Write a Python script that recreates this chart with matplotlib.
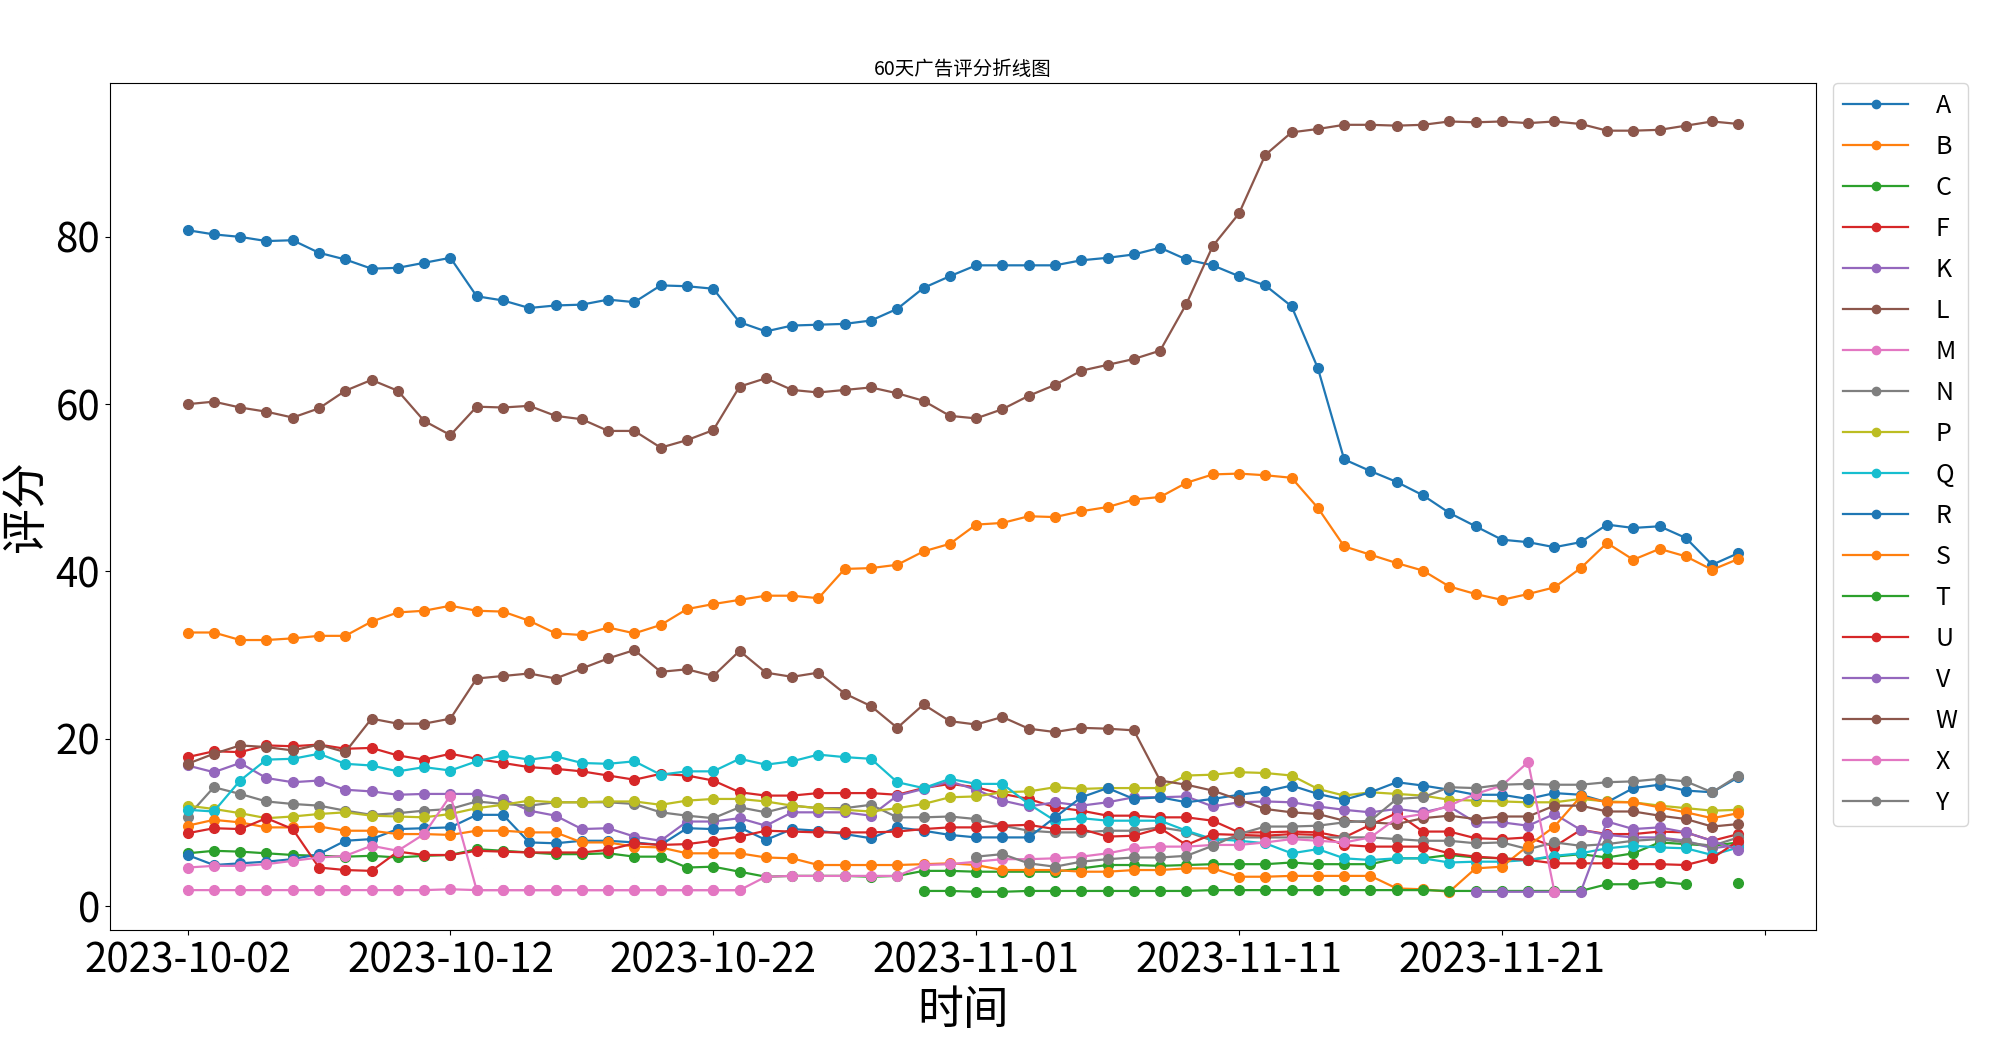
import matplotlib
matplotlib.use('Agg')
import matplotlib.pyplot as plt
import numpy as np
import pandas as pd

plt.rcParams['font.family'] = ['Noto Sans CJK SC', 'DejaVu Sans']
plt.rcParams['axes.unicode_minus'] = False

# 60 days of data
dates = pd.date_range('2023-10-02', periods=60).strftime('%Y-%m-%d').tolist()
nan = None

A = [80.8, 80.3, 80.0, 79.5, 79.6, 78.1, 77.3, 76.2, 76.3, 76.9,
     77.5, 72.9, 72.4, 71.5, 71.8, 71.9, 72.5, 72.2, 74.2, 74.1,
     73.8, 69.8, 68.7, 69.4, 69.5, 69.6, 70.0, 71.4, 73.9, 75.3,
     76.6, 76.6, 76.6, 76.6, 77.2, 77.5, 77.9, 78.7, 77.3, 76.6,
     75.3, 74.2, 71.7, 64.3, 53.4, 52.0, 50.7, 49.1, 47.0, 45.4,
     43.8, 43.5, 42.9, 43.5, 45.6, 45.2, 45.4, 44.0, 40.8, 42.2]
B = [32.7, 32.7, 31.8, 31.8, 32.0, 32.3, 32.3, 34.0, 35.1, 35.3,
     35.9, 35.3, 35.2, 34.1, 32.6, 32.4, 33.3, 32.6, 33.6, 35.5,
     36.1, 36.6, 37.1, 37.1, 36.8, 40.3, 40.4, 40.8, 42.4, 43.3,
     45.6, 45.8, 46.6, 46.5, 47.2, 47.7, 48.6, 48.9, 50.6, 51.6,
     51.7, 51.5, 51.2, 47.6, 43.0, 42.0, 41.0, 40.1, 38.2, 37.3,
     36.6, 37.3, 38.1, 40.4, 43.4, 41.4, 42.7, 41.8, 40.2, 41.5]
C = [6.3, 6.6, 6.5, 6.3, 6.1, 6.0, 5.9, 6.0, 5.8, 6.0,
     6.1, 6.8, 6.6, 6.4, 6.2, 6.2, 6.3, 5.9, 5.9, 4.6,
     4.7, 4.1, 3.5, 3.6, 3.6, 3.6, 3.5, 3.6, 4.2, 4.2,
     4.1, 4.1, 4.1, 4.1, 4.5, 4.9, 4.9, 4.8, 4.9, 5.0,
     5.0, 5.0, 5.2, 5.0, 5.0, 5.0, 5.7, 5.7, 6.1, 5.8,
     5.7, 5.5, 5.9, 6.2, 5.8, 6.3, 7.6, 7.4, 7.2, 7.6]
F = [17.8, 18.5, 18.4, 19.2, 19.1, 19.3, 18.8, 18.9, 18.0, 17.5,
     18.2, 17.6, 17.1, 16.6, 16.4, 16.1, 15.6, 15.1, 15.8, 15.6,
     15.0, 13.6, 13.2, 13.2, 13.5, 13.5, 13.5, 13.3, 14.1, 14.6,
     14.2, 13.4, 12.8, 11.8, 11.4, 10.8, 10.8, 10.6, 10.6, 10.2,
     8.8, 8.8, 8.9, 8.8, 8.2, 9.7, 11.1, 8.9, 8.9, 8.1,
     8.0, 8.2, 7.1, 9.1, 8.6, 8.6, 8.9, 8.8, 7.8, 8.6]
K = [16.8, 16.0, 17.1, 15.3, 14.8, 15.0, 13.9, 13.7, 13.3, 13.4,
     13.4, 13.4, 12.8, 11.4, 10.8, 9.2, 9.3, 8.3, 7.8, 10.1,
     10.1, 10.5, 9.6, 11.2, 11.2, 11.2, 10.8, 13.2, 14.0, 14.9,
     13.9, 12.6, 11.9, 12.4, 12.0, 12.4, 13.0, 13.0, 13.1, 11.9,
     12.4, 12.5, 12.4, 11.9, 11.5, 11.2, 11.6, 11.2, 11.9, 10.0,
     10.0, 9.6, 11.0, 9.1, 8.5, 8.2, 8.2, 7.8, 6.9, 7.3]
L = [60.0, 60.3, 59.6, 59.1, 58.4, 59.5, 61.6, 62.9, 61.6, 58.0,
     56.3, 59.7, 59.6, 59.8, 58.6, 58.2, 56.8, 56.8, 54.8, 55.7,
     56.9, 62.1, 63.1, 61.7, 61.4, 61.7, 62.0, 61.3, 60.4, 58.6,
     58.3, 59.4, 61.0, 62.3, 64.0, 64.7, 65.4, 66.4, 72.0, 78.9,
     82.8, 89.8, 92.5, 92.9, 93.4, 93.4, 93.3, 93.4, 93.8, 93.7,
     93.8, 93.6, 93.8, 93.5, 92.7, 92.7, 92.8, 93.3, 93.8, 93.5]
M = [1.9, 1.9, 1.9, 1.9, 1.9, 1.9, 1.9, 1.9, 1.9, 1.9,
     2.0, 1.9, 1.9, 1.9, 1.9, 1.9, 1.9, 1.9, 1.9, 1.9,
     1.9, 1.9, nan, nan, nan, nan, nan, nan, nan, nan,
     nan, nan, nan, nan, nan, nan, nan, nan, nan, nan,
     nan, nan, nan, nan, nan, nan, nan, nan, nan, nan,
     nan, nan, nan, nan, nan, nan, nan, nan, nan, nan]
N = [10.7, 14.2, 13.4, 12.5, 12.2, 12.0, 11.4, 10.9, 11.1, 11.4,
     11.6, 12.5, 12.2, 12.0, 12.4, 12.4, 12.4, 12.2, 11.2, 10.8,
     10.5, 11.8, 11.2, 12.0, 11.7, 11.7, 12.1, 10.6, 10.6, 10.7,
     10.4, 9.6, 9.0, 8.8, 8.8, 9.0, 9.0, 9.4, 8.9, 7.8,
     8.2, 8.2, 8.2, 8.2, 8.2, 8.2, 8.0, 7.8, 7.8, 7.5,
     7.6, 6.8, 7.6, 7.2, 7.4, 7.8, 8.0, 7.6, 7.2, 8.2]
P = [12.0, 11.6, 11.1, 10.5, 10.7, 11.0, 11.2, 10.8, 10.7, 10.6,
     11.0, 11.7, 12.1, 12.6, 12.4, 12.4, 12.5, 12.5, 12.1, 12.6,
     12.8, 12.8, 12.5, 12.0, 11.7, 11.5, 11.3, 11.7, 12.2, 13.0,
     13.1, 13.6, 13.7, 14.2, 14.0, 14.1, 14.1, 14.1, 15.6, 15.7,
     16.0, 15.9, 15.6, 14.0, 13.2, 13.6, 13.4, 13.2, 12.7, 12.6,
     12.5, 12.4, 12.4, 12.8, 12.5, 12.4, 12.0, 11.7, 11.4, 11.5]
Q = [11.5, 11.3, 15.0, 17.5, 17.6, 18.2, 17.0, 16.8, 16.1, 16.6,
     16.2, 17.3, 18.0, 17.5, 17.9, 17.1, 17.0, 17.3, 15.7, 16.1,
     16.1, 17.6, 16.9, 17.3, 18.1, 17.8, 17.6, 14.8, 14.1, 15.2,
     14.6, 14.6, 12.2, 10.2, 10.5, 10.2, 10.2, 10.2, 9.0, 8.0,
     7.8, 7.5, 6.3, 6.8, 5.7, 5.5, 5.7, 5.7, 5.2, 5.3,
     5.3, 5.5, 6.0, 6.3, 6.9, 7.2, 7.0, 6.9, 6.1, 7.0]
R = [6.1, 4.9, 5.1, 5.3, 5.6, 6.2, 7.8, 8.0, 9.2, 9.3,
     9.4, 10.9, 10.9, 7.6, 7.5, 7.8, 7.8, 7.6, 7.3, 9.3,
     9.2, 9.4, 7.9, 9.2, 9.0, 8.6, 8.1, 9.4, 9.0, 8.5,
     8.2, 8.2, 8.2, 10.6, 13.0, 14.1, 12.8, 13.0, 12.4, 12.8,
     13.3, 13.7, 14.4, 13.4, 12.7, 13.6, 14.8, 14.4, 13.9, 13.3,
     13.3, 12.8, 13.5, 13.3, 12.4, 14.1, 14.5, 13.8, 13.6, 15.4]
S = [9.6, 10.3, 10.0, 9.4, 9.4, 9.5, 9.0, 9.0, 8.6, 8.6,
     8.5, 9.0, 9.0, 8.8, 8.8, 7.6, 7.6, 7.1, 7.0, 6.3,
     6.3, 6.3, 5.8, 5.7, 4.9, 4.9, 4.9, 4.9, 5.0, 5.1,
     4.9, 4.3, 4.3, 4.3, 4.1, 4.1, 4.3, 4.3, 4.5, 4.5,
     3.5, 3.5, 3.6, 3.6, 3.6, 3.6, 2.1, 2.0, 1.7, 4.5,
     4.7, 7.2, 9.5, 13.1, 12.4, 12.4, 11.8, 11.2, 10.5, 11.1]
T = [nan, nan, nan, nan, nan, nan, nan, nan, nan, nan,
     nan, nan, nan, nan, nan, nan, nan, nan, nan, nan,
     nan, nan, nan, nan, nan, nan, nan, nan, 1.8, 1.8,
     1.7, 1.7, 1.8, 1.8, 1.8, 1.8, 1.8, 1.8, 1.8, 1.9,
     1.9, 1.9, 1.9, 1.9, 1.9, 1.9, 1.9, 1.9, 1.8, 1.8,
     1.8, 1.8, 1.8, 1.8, 2.6, 2.6, 2.9, 2.6, nan, 2.7]
U = [8.7, 9.3, 9.2, 10.5, 9.2, 4.6, 4.3, 4.2, 6.5, 6.1,
     6.1, 6.6, 6.5, 6.4, 6.4, 6.4, 6.7, 7.5, 7.3, 7.4,
     7.8, 8.3, 9.0, 8.9, 8.8, 8.8, 8.8, 8.9, 9.2, 9.4,
     9.4, 9.6, 9.7, 9.2, 9.2, 8.3, 8.4, 9.3, 7.3, 8.6,
     8.5, 8.4, 8.6, 8.5, 7.3, 7.1, 7.1, 7.1, 6.3, 5.9,
     5.7, 5.5, 5.1, 5.1, 5.1, 5.0, 5.0, 4.9, 5.7, 7.8]
V = [nan, nan, nan, nan, nan, nan, nan, nan, nan, nan,
     nan, nan, nan, nan, nan, nan, nan, nan, nan, nan,
     nan, nan, nan, nan, nan, nan, nan, nan, nan, nan,
     nan, nan, nan, nan, nan, nan, nan, nan, nan, nan,
     nan, nan, nan, nan, nan, nan, nan, nan, nan, 1.7,
     1.7, 1.7, 1.7, 1.7, 10.1, 9.2, 9.4, 8.8, 7.8, 6.7]
W = [17.0, 18.2, 19.2, 19.0, 18.6, 19.3, 18.4, 22.4, 21.8, 21.8,
     22.4, 27.2, 27.5, 27.8, 27.2, 28.4, 29.6, 30.6, 28.0, 28.3,
     27.5, 30.5, 27.9, 27.4, 27.9, 25.4, 23.9, 21.3, 24.1, 22.1,
     21.7, 22.6, 21.2, 20.8, 21.3, 21.2, 21.0, 15.0, 14.5, 13.8,
     12.7, 11.6, 11.2, 11.0, 10.2, 10.0, 9.8, 10.5, 10.8, 10.4,
     10.7, 10.7, 12.0, 12.0, 11.3, 11.3, 10.8, 10.4, 9.5, 9.8]
X = [4.6, 4.8, 4.8, 5.0, 5.4, 5.8, 6.0, 7.2, 6.6, 8.6,
     13.2, 1.9, 1.9, 1.9, 1.9, 1.9, 1.9, 1.9, 1.9, 1.9,
     1.9, 1.9, 3.5, 3.6, 3.6, 3.6, 3.6, 3.6, 4.9, 5.0,
     5.3, 5.6, 5.6, 5.7, 5.9, 6.3, 6.9, 7.1, 7.1, 7.3,
     7.3, 7.6, 8.0, 7.8, 7.6, 8.2, 10.5, 11.0, 12.0, 13.4,
     14.4, 17.2, 1.7, nan, nan, nan, nan, nan, nan, nan]
Y = [nan, nan, nan, nan, nan, nan, nan, nan, nan, nan,
     nan, nan, nan, nan, nan, nan, nan, nan, nan, nan,
     nan, nan, nan, nan, nan, nan, nan, nan, nan, nan,
     5.9, 6.2, 5.1, 4.7, 5.3, 5.6, 5.8, 5.8, 6.0, 7.2,
     8.6, 9.5, 9.5, 9.6, 10.0, 10.2, 12.8, 13.0, 14.2, 14.1,
     14.5, 14.6, 14.5, 14.5, 14.8, 14.9, 15.2, 14.9, 13.6, 15.6]

names = ['A', 'B', 'C', 'F', 'K', 'L', 'M', 'N', 'P', 'Q',
         'R', 'S', 'T', 'U', 'V', 'W', 'X', 'Y']
series = [A, B, C, F, K, L, M, N, P, Q, R, S, T, U, V, W, X, Y]

fig = plt.figure(figsize=(20, 10.5), dpi=100)
ax = fig.add_axes([0.055, 0.114, 0.853, 0.807])

x = np.arange(len(dates))
for name, vals in zip(names, series):
    ax.plot(x, np.array(vals, dtype=float), marker='o', markersize=7,
            linewidth=1.6, label=name)

# ticks every 10 days, last tick without a label
ticks = list(range(0, 61, 10))
ax.set_xticks(ticks, dates[::10] + [''])
ax.tick_params(axis='both', labelsize=29)
ax.set_yticks([0, 20, 40, 60, 80])

ax.set_title('60天广告评分折线图', fontsize=14)
ax.set_xlabel('时间', fontsize=33)
ax.set_ylabel('评分', fontsize=33)

ax.legend(loc='upper left', bbox_to_anchor=(1.01, 1.0), borderaxespad=0,
          fontsize=18, handlelength=2.6, handletextpad=1.1,
          labelspacing=0.6, markerscale=0.85)

fig.savefig('out.png', dpi=100)
